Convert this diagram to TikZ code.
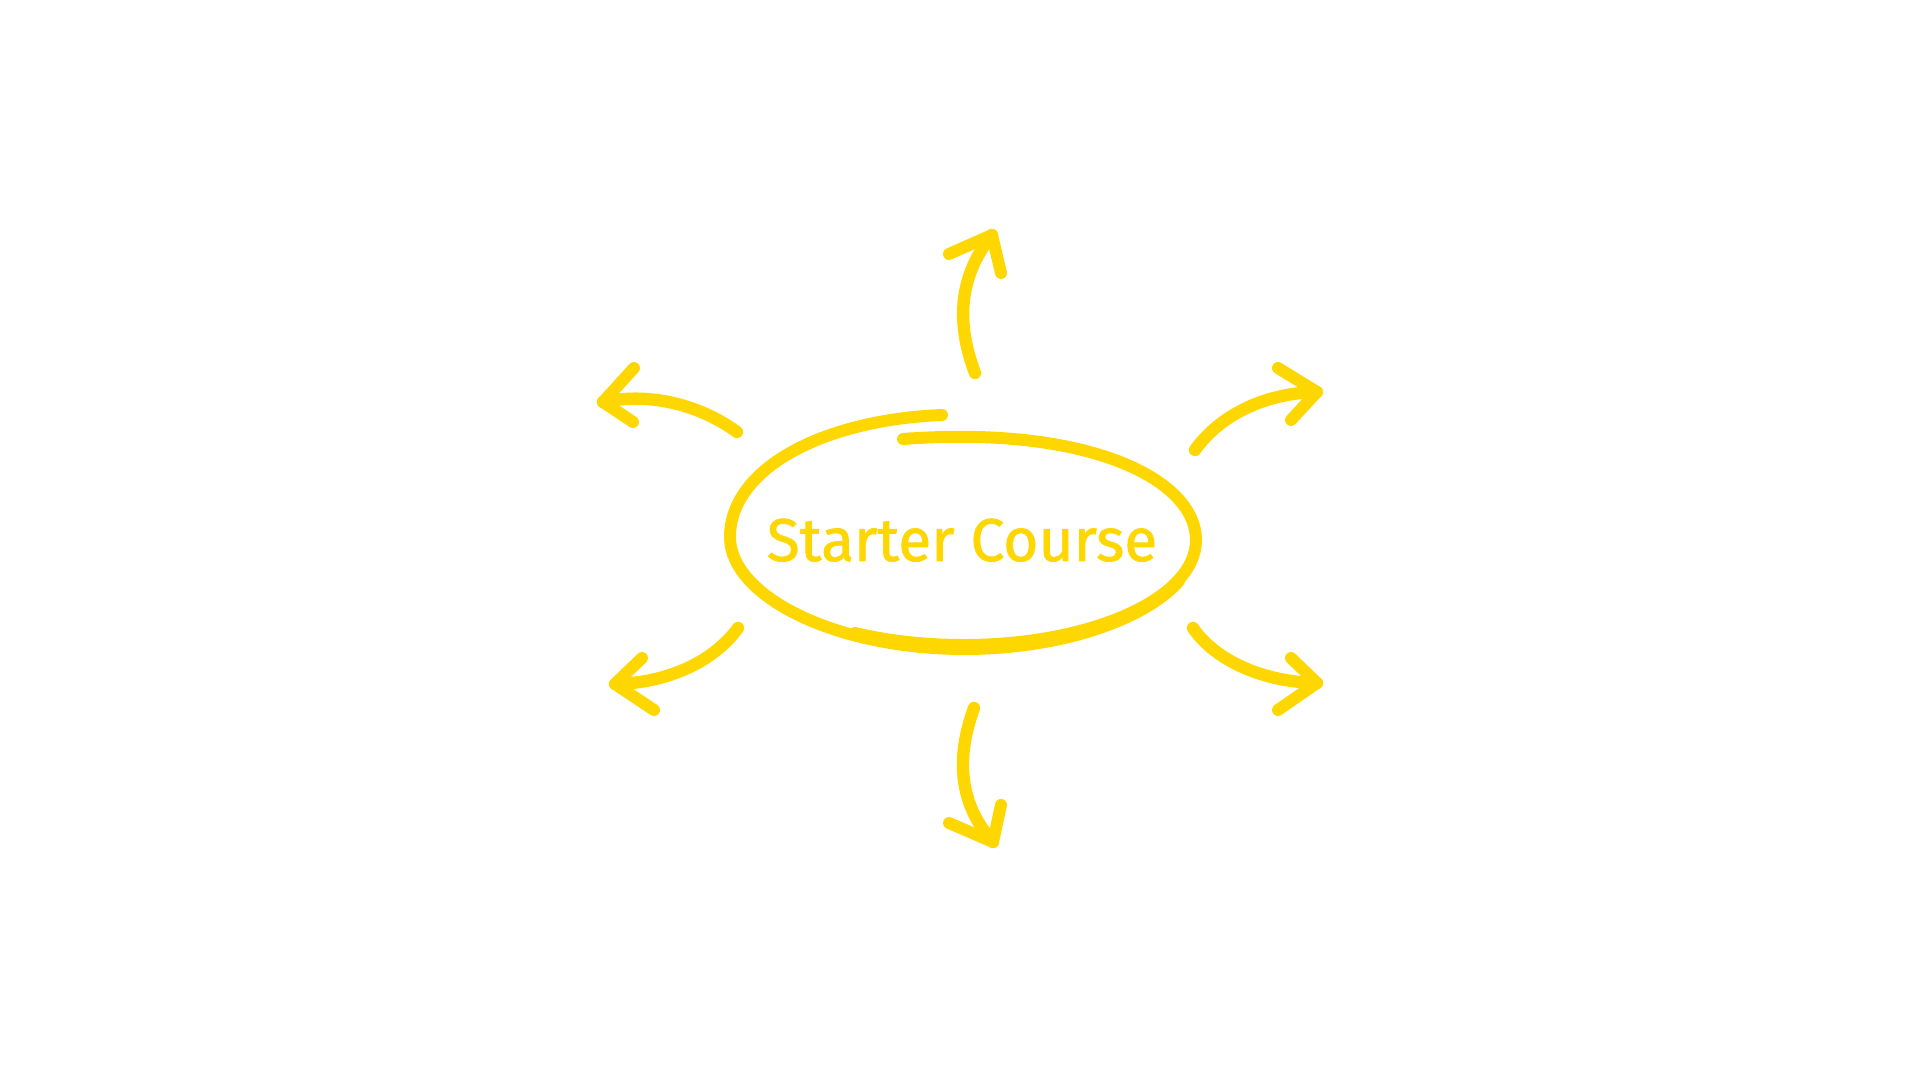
\documentclass[tikz,border=0pt]{standalone}
\usepackage{fontspec}
\usepackage{graphicx}
\setmainfont{Fira Sans}
\newfontfamily\titlefont{Fira Sans}[FakeBold=1.2]
\definecolor{gold}{HTML}{FFD700}
\tikzset{
  sketch/.style={draw=gold, line width=3.5pt, line cap=round, line join=round},
  ring/.style={draw=gold, line width=3.4pt, line cap=round, line join=round},
  wing/.style={draw=gold, line width=3.4pt, line cap=round, line join=round},
  label/.style={text=gold, inner sep=0pt, anchor=base}
}
\begin{document}
\begin{tikzpicture}[x=0.01cm, y=-0.01cm]
\fill[white] (0,0) rectangle (1920,1080);
\useasboundingbox (0,0) rectangle (1920,1080);

% centre ellipse, two hand strokes
\coordinate (a0) at (942,415);
\coordinate (a1) at (730,537);
\coordinate (a2) at (964,649);
\coordinate (a3) at (1179,581);
\draw[ring] (a0) .. controls (820,420) and (730,470) .. (a1)
                 .. controls (730,596) and (835,649) .. (a2)
                 .. controls (1070,649) and (1150,615) .. (a3);
\coordinate (b0) at (903,439);
\coordinate (b1) at (1196,540);
\coordinate (b2) at (964,645);
\coordinate (b3) at (855,633);
\draw[ring] (b0) .. controls (1090,425) and (1196,480) .. (b1)
                 .. controls (1196,598) and (1092,645) .. (b2)
                 .. controls (926,645) and (888.5,641) .. (b3);
\node[label] (title) at (962,561) {\resizebox{111pt}{!}{\titlefont Starter Course}};

% tips and tails
\coordinate (tT) at (992,235);   \coordinate (sT) at (975,373);
\coordinate (tB) at (993,842);   \coordinate (sB) at (974,708);
\coordinate (tUL) at (603,402);  \coordinate (sUL) at (737,432);
\coordinate (tUR) at (1317,392); \coordinate (sUR) at (1195,450);
\coordinate (tLL) at (615,684);  \coordinate (sLL) at (738,628);
\coordinate (tLR) at (1317,683); \coordinate (sLR) at (1193,628);

% top
\draw[sketch] (sT) .. controls (955,320) and (960,275) .. (tT);
\coordinate (wT1) at (949,254); \coordinate (wT2) at (1001,273);
\draw[wing] (wT1) -- (tT) -- (wT2);
% bottom
\draw[sketch] (sB) .. controls (955,760) and (960,805) .. (tB);
\coordinate (wB1) at (949,823); \coordinate (wB2) at (1001,805);
\draw[wing] (wB1) -- (tB) -- (wB2);
% upper left
\draw[sketch] (sUL) .. controls (700,405) and (650,392) .. (tUL);
\coordinate (wUL1) at (634,368); \coordinate (wUL2) at (633,422);
\draw[wing] (wUL1) -- (tUL) -- (wUL2);
% upper right
\draw[sketch] (sUR) .. controls (1220,415) and (1265,393) .. (tUR);
\coordinate (wUR1) at (1278,368); \coordinate (wUR2) at (1291,420);
\draw[wing] (wUR1) -- (tUR) -- (wUR2);
% lower left
\draw[sketch] (sLL) .. controls (715,660) and (670,683) .. (tLL);
\coordinate (wLL1) at (642,658); \coordinate (wLL2) at (654,710);
\draw[wing] (wLL1) -- (tLL) -- (wLL2);
% lower right
\draw[sketch] (sLR) .. controls (1215,660) and (1262,682) .. (tLR);
\coordinate (wLR1) at (1291,658); \coordinate (wLR2) at (1278,710);
\draw[wing] (wLR1) -- (tLR) -- (wLR2);
\end{tikzpicture}
\end{document}
